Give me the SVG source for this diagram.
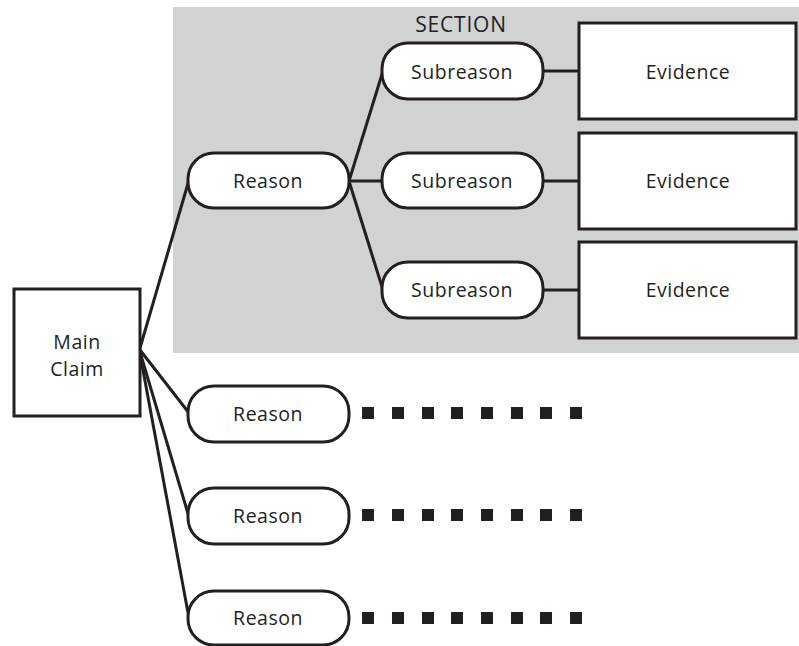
<svg xmlns="http://www.w3.org/2000/svg" width="799" height="646" viewBox="0 0 799 646">
<style>
.pill{fill:#fff;stroke:#231f20;stroke-width:3}
.box{fill:#fff;stroke:#231f20;stroke-width:3}
.lbl{font-family:"Open Sans","Noto Sans",sans-serif;font-size:19.5px;fill:#231f20;text-anchor:middle;dominant-baseline:central;letter-spacing:0.5px}
.sec{font-size:21px;letter-spacing:0.8px}
.ln{stroke:#231f20;stroke-width:3;fill:none}
.dot{fill:#231f20}
</style>
<rect id="section" x="173" y="7" width="626" height="346" fill="#d1d2d4"/>
<text class="lbl sec" x="461" y="24">SECTION</text>
<g id="connectors">
<line class="ln" x1="140" y1="348" x2="189" y2="180"/>
<line class="ln" x1="140" y1="350" x2="189" y2="413"/>
<line class="ln" x1="140" y1="352" x2="189" y2="517"/>
<line class="ln" x1="140" y1="354" x2="189" y2="618"/>
<line class="ln" x1="349" y1="181" x2="383" y2="71"/>
<line class="ln" x1="349" y1="181" x2="383" y2="181"/>
<line class="ln" x1="349" y1="181" x2="383" y2="290"/>
<line class="ln" x1="543" y1="71" x2="579" y2="71"/>
<line class="ln" x1="543" y1="181" x2="579" y2="181"/>
<line class="ln" x1="543" y1="290" x2="579" y2="290"/>
</g>
<g id="main-claim"><rect class="box" x="14" y="289" width="126" height="127"/><text class="lbl" x="77" y="341">Main</text><text class="lbl" x="77" y="368">Claim</text></g>
<g id="reason-1"><rect class="pill" x="188" y="153" width="161" height="55" rx="26"/><text class="lbl" x="268" y="180">Reason</text></g>
<g id="reason-2"><rect class="pill" x="188" y="386" width="161" height="56" rx="26"/><text class="lbl" x="268" y="413">Reason</text></g>
<g id="reason-3"><rect class="pill" x="188" y="488" width="161" height="56" rx="26"/><text class="lbl" x="268" y="515">Reason</text></g>
<g id="reason-4"><rect class="pill" x="188" y="591" width="161" height="54" rx="26"/><text class="lbl" x="268" y="617">Reason</text></g>
<g id="subreason-1"><rect class="pill" x="382" y="43" width="161" height="56" rx="26"/><text class="lbl" x="462" y="71">Subreason</text></g>
<g id="subreason-2"><rect class="pill" x="382" y="153" width="161" height="55" rx="26"/><text class="lbl" x="462" y="180">Subreason</text></g>
<g id="subreason-3"><rect class="pill" x="382" y="262" width="161" height="56" rx="26"/><text class="lbl" x="462" y="289">Subreason</text></g>
<g id="evidence-1"><rect class="box" x="579" y="23" width="217" height="96"/><text class="lbl" x="688" y="71">Evidence</text></g>
<g id="evidence-2"><rect class="box" x="579" y="133" width="217" height="96"/><text class="lbl" x="688" y="180">Evidence</text></g>
<g id="evidence-3"><rect class="box" x="579" y="242" width="217" height="96"/><text class="lbl" x="688" y="289">Evidence</text></g>
<g id="dots-2" class="dot">
<rect x="362" y="407" width="12" height="12"/><rect x="392" y="407" width="12" height="12"/><rect x="422" y="407" width="12" height="12"/><rect x="451" y="407" width="12" height="12"/><rect x="481" y="407" width="12" height="12"/><rect x="511" y="407" width="12" height="12"/><rect x="540" y="407" width="12" height="12"/><rect x="570" y="407" width="12" height="12"/>
</g>
<g id="dots-3" class="dot">
<rect x="362" y="509" width="12" height="12"/><rect x="392" y="509" width="12" height="12"/><rect x="422" y="509" width="12" height="12"/><rect x="451" y="509" width="12" height="12"/><rect x="481" y="509" width="12" height="12"/><rect x="511" y="509" width="12" height="12"/><rect x="540" y="509" width="12" height="12"/><rect x="570" y="509" width="12" height="12"/>
</g>
<g id="dots-4" class="dot">
<rect x="362" y="612" width="12" height="12"/><rect x="392" y="612" width="12" height="12"/><rect x="422" y="612" width="12" height="12"/><rect x="451" y="612" width="12" height="12"/><rect x="481" y="612" width="12" height="12"/><rect x="511" y="612" width="12" height="12"/><rect x="540" y="612" width="12" height="12"/><rect x="570" y="612" width="12" height="12"/>
</g>
</svg>
